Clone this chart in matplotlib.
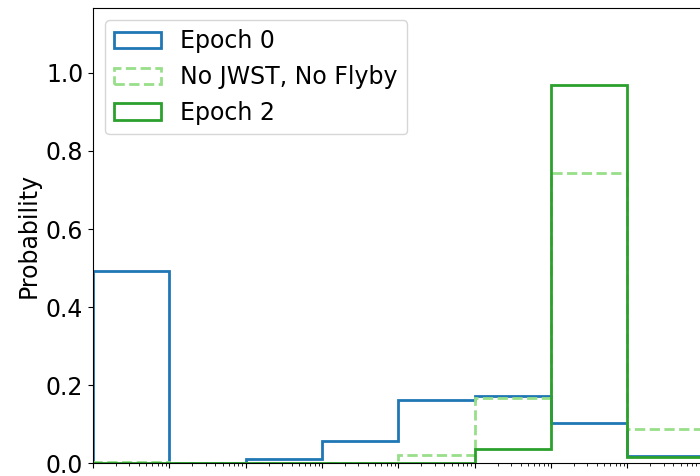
import numpy as np
import matplotlib
matplotlib.use('Agg')
from matplotlib import pyplot as plt

# границы бинов (по декадам)
edges = np.logspace(-3, 6, 10)
# вероятности по бинам
epoch0 = [0.492, 0.002, 0.01, 0.058, 0.162, 0.173, 0.103, 0.018, 0.0]
no_jwst = [0.003, 0.0, 0.0, 0.0, 0.02, 0.166, 0.743, 0.089, 0.0]
epoch2 = [0.0, 0.0, 0.0, 0.0, 0.0, 0.037, 0.97, 0.015, 0.0]

centers = np.sqrt(edges[:-1] * edges[1:])

plt.rcParams['font.size'] = 17
fig = plt.figure(figsize=(7, 4.76), dpi=100)
ax = fig.add_axes([93 / 700, 12.7 / 476, 687 / 700, 455.3 / 476])

ax.hist(centers, bins=edges, weights=epoch0, histtype='step', color='#1f77b4',
        linewidth=2, label='Epoch 0')
ax.hist(centers, bins=edges, weights=no_jwst, histtype='step', color='#98df8a',
        linewidth=2, linestyle='--', label='No JWST, No Flyby')
ax.hist(centers, bins=edges, weights=epoch2, histtype='step', color='#2ca02c',
        linewidth=2, label='Epoch 2')

ax.set_xscale('log')
ax.set_xlim(edges[0], edges[-1])
ax.set_ylim(0, 1.166)
ax.set_ylabel('Probability')
ax.tick_params(axis='x', which='both', labelbottom=False)  # подписи оси x за кадром
ax.legend(loc='upper left')

plt.savefig('out.png', dpi=100)
